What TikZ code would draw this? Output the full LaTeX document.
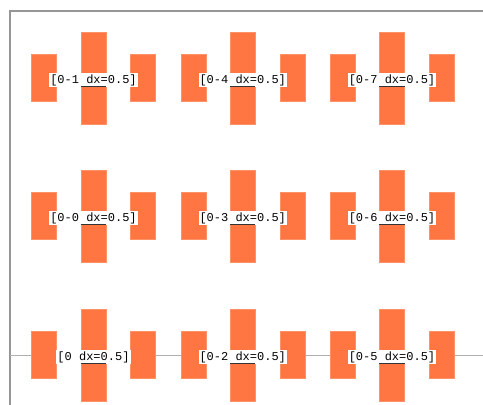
\documentclass[tikz,border=0pt]{standalone}
\usepackage{fontspec}
\setmonofont{Liberation Mono}
\usepackage{tikz}
\usetikzlibrary{calc}
\definecolor{colblock}{RGB}{255,118,66}
\definecolor{colframe}{RGB}{150,150,150}
\definecolor{colaxis}{RGB}{175,175,175}
\tikzstyle{sideblock}=[rectangle, fill=colblock, draw=colblock!80!white, line width=0.4pt, minimum width=25pt, minimum height=47pt, inner sep=0pt]
\tikzstyle{midblock}=[sideblock, minimum height=92pt]
\tikzstyle{tag}=[fill=white, inner sep=1pt, font=\ttfamily\fontsize{12}{12}\selectfont]
\tikzstyle{frame}=[line width=2pt, colframe]
\tikzstyle{axis}=[line width=0.8pt, colaxis]
\tikzstyle{underl}=[line width=0.8pt, black!80]

\begin{document}
\begin{tikzpicture}[x=1pt,y=-1pt]
      \useasboundingbox (0,0) rectangle (483,405);

      % frame
      \coordinate (f0) at (10,405);
      \coordinate (f1) at (10,11);
      \coordinate (f2) at (483,11);
      \draw[frame] (f0) -- (f1) -- (f2);

      % bottom row line
      \coordinate (h0) at (10,355);
      \coordinate (h1) at (483,355);
      \draw[axis] (h0) -- (h1);

      % blocks: x, y, label
      \foreach \x/\y/\t [count=\n] in {
          93.5/78/0-1, 242.75/78/0-4, 392/78/0-7,
          93.5/216/0-0, 242.75/216/0-3, 392/216/0-6,
          93.5/355/0, 242.75/355/0-2, 392/355/0-5}
      {
        \node[sideblock] (l\n) at (\x-49.5,\y) {};
        \node[midblock] (m\n) at (\x,\y) {};
        \node[sideblock] (r\n) at (\x+49.5,\y) {};
        \node[tag] (t\n) at (\x,\y+2) {[\t{} dx=0.5]};
        \draw[underl] (m\n.west |- t\n.south) -- (m\n.east |- t\n.south);
      }
\end{tikzpicture}
\end{document}
